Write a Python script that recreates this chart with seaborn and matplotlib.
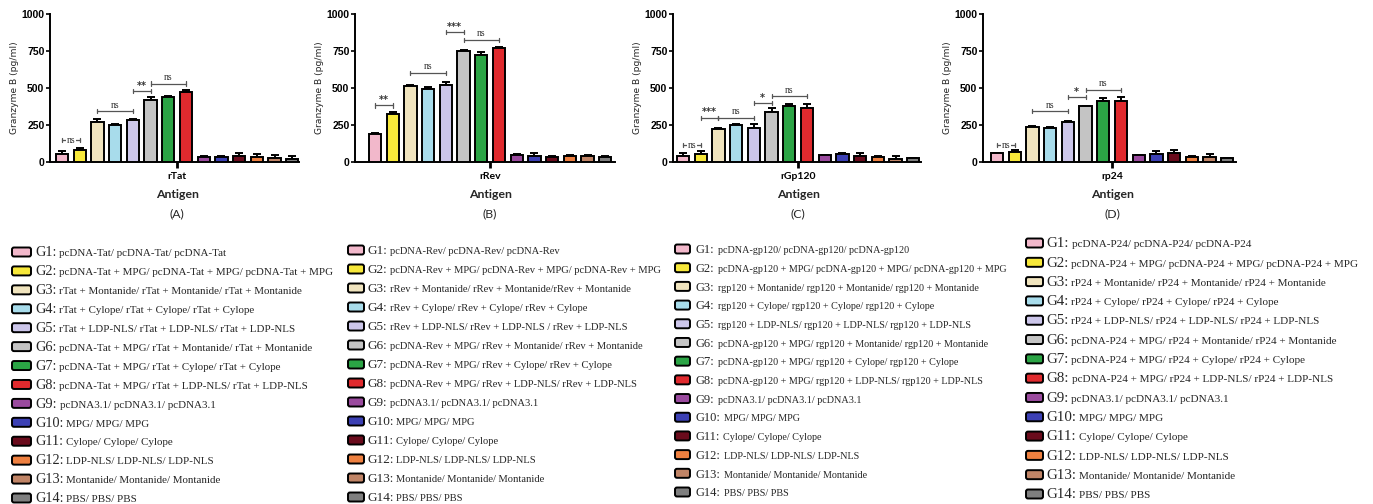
import numpy as np
import pandas as pd
import matplotlib
matplotlib.use("Agg")
import matplotlib.pyplot as plt
import seaborn as sns
from matplotlib.patches import FancyBboxPatch
from matplotlib.transforms import blended_transform_factory

# ---------------- data ----------------
groups = [f"G{i}" for i in range(1, 15)]
group_colors = ["#F2B8CB", "#F7E83A", "#F0E4BE", "#A8DCEB", "#CCC6EA", "#C4C4C4", "#2BA445",
                "#E02A2E", "#9A4A9E", "#3C40B4", "#6A0B1C", "#EE8040", "#C08466", "#7F7F7F"]
antigens = ["rTat", "rRev", "rGp120", "rp24"]
panel_tags = ["(A)", "(B)", "(C)", "(D)"]

tat_mean = [55, 82, 268, 252, 282, 422, 440, 470, 32, 34, 42, 35, 28, 22]
tat_err = [18, 10, 20, 8, 10, 20, 8, 14, 6, 6, 16, 22, 22, 20]
rev_mean = [188, 325, 512, 495, 520, 750, 720, 773, 48, 40, 35, 38, 38, 32]
rev_err = [6, 14, 8, 14, 18, 4, 20, 7, 5, 20, 6, 8, 8, 6]
gp120_mean = [42, 56, 222, 252, 232, 340, 380, 367, 45, 55, 38, 32, 22, 25]
gp120_err = [16, 15, 8, 8, 22, 22, 10, 22, 5, 8, 25, 10, 20, 2]
p24_mean = [58, 66, 237, 228, 270, 378, 410, 412, 45, 52, 58, 32, 32, 26]
p24_err = [6, 16, 7, 7, 10, 3, 22, 24, 5, 24, 22, 8, 20, 2]

# significance brackets: (first group index, last group index, height, label)
tat_sig = [(0, 1, 147, "ns"), (2, 4, 343, "ns"), (4, 5, 478, "**"), (5, 7, 530, "ns")]
rev_sig = [(0, 1, 382, "**"), (2, 4, 602, "ns"), (4, 5, 876, "***"), (5, 7, 825, "ns")]
gp120_sig = [(0, 1, 112, "ns"), (1, 2, 297, "***"), (2, 4, 299, "ns"), (4, 5, 398, "*"), (5, 7, 445, "ns")]
p24_sig = [(0, 1, 112, "ns"), (2, 4, 344, "ns"), (4, 5, 438, "*"), (5, 7, 488, "ns")]

yticks = [0, 250, 500, 750, 1000]

tat_labels = ["pcDNA-Tat/ pcDNA-Tat/ pcDNA-Tat",
              "pcDNA-Tat + MPG/ pcDNA-Tat + MPG/ pcDNA-Tat + MPG",
              "rTat + Montanide/ rTat + Montanide/ rTat + Montanide",
              "rTat + Cylope/ rTat + Cylope/ rTat + Cylope",
              "rTat + LDP-NLS/ rTat + LDP-NLS/ rTat + LDP-NLS",
              "pcDNA-Tat + MPG/ rTat + Montanide/ rTat + Montanide",
              "pcDNA-Tat + MPG/ rTat + Cylope/ rTat + Cylope",
              "pcDNA-Tat + MPG/ rTat + LDP-NLS/ rTat + LDP-NLS"]
rev_labels = ["pcDNA-Rev/ pcDNA-Rev/ pcDNA-Rev",
              "pcDNA-Rev + MPG/ pcDNA-Rev + MPG/ pcDNA-Rev + MPG",
              "rRev + Montanide/ rRev + Montanide/rRev + Montanide",
              "rRev + Cylope/ rRev + Cylope/ rRev + Cylope",
              "rRev + LDP-NLS/ rRev + LDP-NLS / rRev + LDP-NLS",
              "pcDNA-Rev + MPG/ rRev + Montanide/ rRev + Montanide",
              "pcDNA-Rev + MPG/ rRev + Cylope/ rRev + Cylope",
              "pcDNA-Rev + MPG/ rRev + LDP-NLS/ rRev + LDP-NLS"]
gp120_labels = ["pcDNA-gp120/ pcDNA-gp120/ pcDNA-gp120",
                "pcDNA-gp120 + MPG/ pcDNA-gp120 + MPG/ pcDNA-gp120 + MPG",
                "rgp120 + Montanide/ rgp120 + Montanide/ rgp120 + Montanide",
                "rgp120 + Cylope/ rgp120 + Cylope/ rgp120 + Cylope",
                "rgp120 + LDP-NLS/ rgp120 + LDP-NLS/ rgp120 + LDP-NLS",
                "pcDNA-gp120 + MPG/ rgp120 + Montanide/ rgp120 + Montanide",
                "pcDNA-gp120 + MPG/ rgp120 + Cylope/ rgp120 + Cylope",
                "pcDNA-gp120 + MPG/ rgp120 + LDP-NLS/ rgp120 + LDP-NLS"]
p24_labels = ["pcDNA-P24/ pcDNA-P24/ pcDNA-P24",
              "pcDNA-P24 + MPG/ pcDNA-P24 + MPG/ pcDNA-P24 + MPG",
              "rP24 + Montanide/ rP24 + Montanide/ rP24 + Montanide",
              "rP24 + Cylope/ rP24 + Cylope/ rP24 + Cylope",
              "rP24 + LDP-NLS/ rP24 + LDP-NLS/ rP24 + LDP-NLS",
              "pcDNA-P24 + MPG/ rP24 + Montanide/ rP24 + Montanide",
              "pcDNA-P24 + MPG/ rP24 + Cylope/ rP24 + Cylope",
              "pcDNA-P24 + MPG/ rP24 + LDP-NLS/ rP24 + LDP-NLS"]
control_labels = ["pcDNA3.1/ pcDNA3.1/ pcDNA3.1", "MPG/ MPG/ MPG", "Cylope/ Cylope/ Cylope",
                  "LDP-NLS/ LDP-NLS/ LDP-NLS", "Montanide/ Montanide/ Montanide", "PBS/ PBS/ PBS"]

means = [tat_mean, rev_mean, gp120_mean, p24_mean]
errs = [tat_err, rev_err, gp120_err, p24_err]
sigs = [tat_sig, rev_sig, gp120_sig, p24_sig]
legend_texts = [tat_labels + control_labels, rev_labels + control_labels,
                gp120_labels + control_labels, p24_labels + control_labels]

# ---------------- layout ----------------
W, H = 1373, 504
sns.set_theme(style="ticks")
plt.rcParams["font.family"] = ["DejaVu Sans"]
fig = plt.figure(figsize=(W / 100, H / 100), dpi=100)

UNIT = 310.0          # pixels per x data unit
axis_top, axis_bot = 14, 162
# (axis left px, gap left px, gap right px)
panel_layout = [(50, 12, 7), (355, 20, 10), (673, 10, 8), (983, 14, 9)]
first_c = 0.4 - 0.8 / 28

for k in range(4):
    L, gl, gr = panel_layout[k]
    xl = -first_c - gl / UNIT
    xr = first_c + gr / UNIT
    wpx = (xr - xl) * UNIT
    ax = fig.add_axes([L / W, 1 - axis_bot / H, wpx / W, (axis_bot - axis_top) / H])
    df = pd.DataFrame({"antigen": [antigens[k]] * 14, "group": groups, "value": means[k]})
    sns.barplot(data=df, x="antigen", y="value", hue="group", hue_order=groups,
                palette=group_colors, saturation=1, errorbar=None, gap=0.3, edgecolor="black",
                linewidth=1.4, legend=False, ax=ax, zorder=3)
    bars = [c[0] for c in ax.containers]
    xs = np.array([b.get_x() + b.get_width() / 2 for b in bars])
    hs = np.array([b.get_height() for b in bars])
    ax.errorbar(xs, hs, yerr=[np.zeros(14), errs[k]], fmt="none", ecolor="black",
                elinewidth=1.4, capsize=3.2, capthick=1.4, zorder=2)
    ax.set_xlim(xl, xr)
    ax.set_ylim(0, 1000)
    ax.set_yticks(yticks)
    ax.set_yticklabels([str(t) for t in yticks], fontsize=7.5, fontweight="bold",
                       family="Liberation Sans")
    ax.set_xticks([0])
    ax.set_xticklabels([antigens[k]], fontsize=7.5, fontweight="bold", family="Lato")
    ax.tick_params(axis="y", length=3, width=1.2, pad=1, colors="black")
    ax.tick_params(axis="x", length=4, width=2, pad=3, colors="black")
    ax.set_xlabel("")
    ax.set_ylabel("Granzyme B (pg/ml)", fontsize=6.6, family="DejaVu Sans", labelpad=2)
    for s in ["top", "right"]:
        ax.spines[s].set_visible(False)
    for s in ["left", "bottom"]:
        ax.spines[s].set_linewidth(1.4)
        ax.spines[s].set_color("black")
    ax.set_facecolor("none")
    tr = blended_transform_factory(ax.transData, ax.transAxes)
    ax.annotate("Antigen", xy=(0, 0), xycoords=tr, xytext=(0, -23.5), textcoords="offset points",
                ha="center", va="center", fontsize=8.8, fontweight="bold", family="Lato")
    ax.annotate(panel_tags[k], xy=(0, 0), xycoords=tr, xytext=(0, -37), textcoords="offset points",
                ha="center", va="center", fontsize=8.8, family="Lato")
    # significance brackets
    for (i, j, y, lab) in sigs[k]:
        x1, x2 = xs[i], xs[j]
        ax.plot([x1, x2], [y, y], color="#555555", lw=0.9, zorder=4, clip_on=False)
        for xx in (x1, x2):
            ax.plot([xx, xx], [y - 14, y + 14], color="#555555", lw=0.9, zorder=4, clip_on=False)
        if lab == "ns" and j - i == 1:
            ax.text((x1 + x2) / 2, y, lab, ha="center", va="center", fontsize=7,
                    family="Liberation Serif", color="#333333", zorder=5,
                    bbox=dict(facecolor="white", edgecolor="none", pad=0.3))
        elif lab == "ns":
            ax.text((x1 + x2) / 2, y + 10, lab, ha="center", va="bottom", fontsize=7,
                    family="Liberation Serif", color="#333333", zorder=5)
        else:
            ax.text((x1 + x2) / 2, y + 4, lab, ha="center", va="bottom", fontsize=7,
                    fontweight="bold", color="#333333", zorder=5)

# ---------------- legends ----------------
# (swatch left px, swatch width px, text left px, first row center px, last row center px,
#  group-id font size, description font size)
legend_layout = [(12, 19, 35, 252, 498, 10.3, 7.95), (348, 16, 367, 250, 497, 9.5, 7.6),
                 (675, 15, 696, 249, 492, 9.0, 7.3), (1026, 17, 1046, 243, 494, 10.8, 8.05)]
renderer = fig.canvas.get_renderer()
for k in range(4):
    sx, sw, tx, y0, y1, fs1, fs2 = legend_layout[k]
    step = (y1 - y0) / 13
    for g in range(14):
        yc = y0 + g * step
        box = FancyBboxPatch((sx / 100, (H - yc - 4.5) / 100), sw / 100, 0.09,
                             boxstyle="round,pad=0,rounding_size=0.02",
                             facecolor=group_colors[g], edgecolor="black", linewidth=1.4,
                             transform=fig.dpi_scale_trans, zorder=3)
        fig.add_artist(box)
        yb = (H - yc - 4.2) / 100
        t1 = fig.text(tx / 100, yb, f"{groups[g]}:", transform=fig.dpi_scale_trans,
                      fontsize=fs1, family="Liberation Serif", va="baseline", ha="left")
        ext = t1.get_window_extent(renderer)
        fig.text((ext.x1 + 3) / 100, yb, legend_texts[k][g], transform=fig.dpi_scale_trans,
                 fontsize=fs2, family="Liberation Serif", va="baseline", ha="left")

fig.savefig("out.png", dpi=100)
